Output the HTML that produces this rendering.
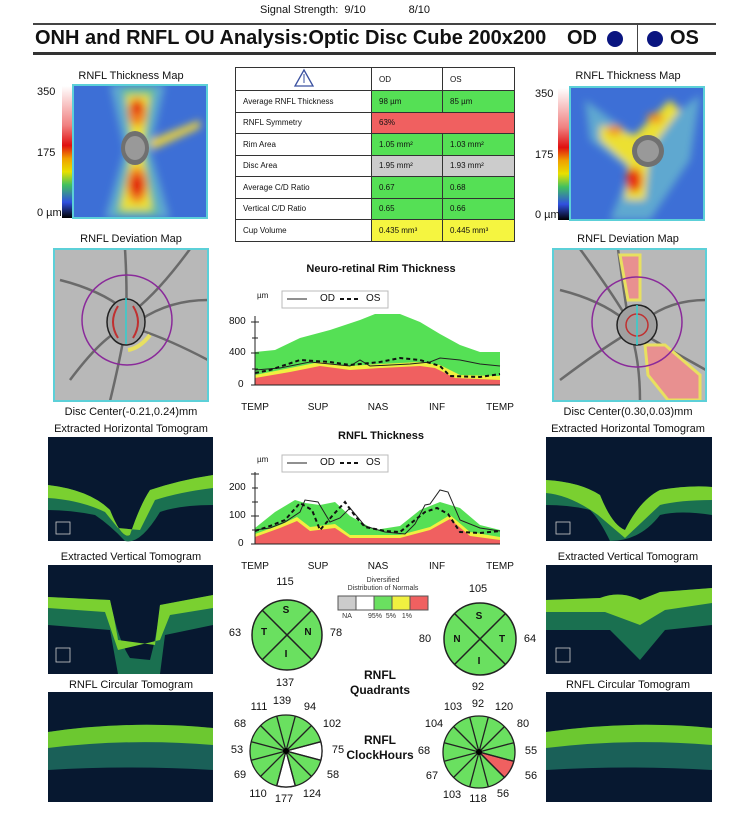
<!DOCTYPE html>
<html><head><meta charset="utf-8"><style>
body{margin:0;background:#fff;}
#p{position:relative;width:750px;height:818px;overflow:hidden;font-family:"Liberation Sans",sans-serif;color:#111;}
.t{position:absolute;white-space:nowrap;}
.c{transform:translateX(-50%);}
table{border-collapse:collapse;position:absolute;left:235px;top:67px;font-size:8px;}
td{border:1px solid #333;height:20.5px;padding:0 0 0 7px;}
</style></head><body><div id="p">
<div class="t" style="left:260px;top:4px;font-size:11px;">Signal Strength:&nbsp;&nbsp;9/10&nbsp;&nbsp;&nbsp;&nbsp;&nbsp;&nbsp;&nbsp;&nbsp;&nbsp;&nbsp;&nbsp;&nbsp;&nbsp;&nbsp;8/10</div>
<div style="position:absolute;left:33px;top:23px;width:683px;height:2px;background:#444"></div>
<div style="position:absolute;left:33px;top:52px;width:683px;height:3px;background:#333"></div>
<div style="position:absolute;left:637px;top:25px;width:1px;height:27px;background:#444"></div>
<div class="t" style="left:35px;top:27px;font-size:20px;font-weight:bold;">ONH and RNFL OU Analysis:Optic Disc Cube 200x200</div>
<div class="t" style="left:567px;top:27px;font-size:20px;font-weight:bold;">OD</div>
<div style="position:absolute;left:607px;top:31px;width:16px;height:16px;border-radius:50%;background:#0a1580"></div>
<div style="position:absolute;left:647px;top:31px;width:16px;height:16px;border-radius:50%;background:#0a1580"></div>
<div class="t" style="left:670px;top:27px;font-size:20px;font-weight:bold;">OS</div>

<svg style="position:absolute;left:0;top:0" width="750" height="818">
<defs>
<linearGradient id="cb" x1="0" y1="0" x2="0" y2="1">
<stop offset="0" stop-color="#fff"/><stop offset="0.3" stop-color="#f08080"/><stop offset="0.45" stop-color="#e01010"/><stop offset="0.55" stop-color="#f0a000"/><stop offset="0.65" stop-color="#e8e000"/><stop offset="0.75" stop-color="#40c060"/><stop offset="0.88" stop-color="#3050e0"/><stop offset="1" stop-color="#000"/>
</linearGradient>
<filter id="bl" x="-50%" y="-50%" width="200%" height="200%"><feGaussianBlur stdDeviation="4"/></filter>
<clipPath id="m1"><rect x="73" y="85" width="134" height="133"/></clipPath>
<clipPath id="m2"><rect x="570" y="87" width="134" height="133"/></clipPath>
<clipPath id="d1"><rect x="54" y="249" width="154" height="152"/></clipPath>
<clipPath id="d2"><rect x="553" y="249" width="153" height="152"/></clipPath>
</defs>
<rect x="62" y="86" width="11" height="132" fill="url(#cb)"/>
<rect x="558" y="88" width="11" height="132" fill="url(#cb)"/>
<g clip-path="url(#m1)">
<rect x="73" y="85" width="134" height="133" fill="#3d6fd6"/>
<g filter="url(#bl)">
<path d="M110 85 L165 85 L150 150 L170 218 L105 218 L125 150Z" fill="#5fa8d0"/>
<path d="M122 88 L155 88 L145 150 L158 215 L115 215 L130 150Z" fill="#60c090"/>
<path d="M126 95 L150 95 L142 150 L152 210 L120 210 L133 150Z" fill="#ece030"/>
<ellipse cx="137" cy="112" rx="9" ry="14" fill="#f08020"/>
<ellipse cx="137" cy="185" rx="10" ry="18" fill="#f08020"/>
<ellipse cx="137" cy="108" rx="5" ry="6" fill="#e01810"/>
<ellipse cx="137" cy="185" rx="6" ry="10" fill="#e01810"/>
<path d="M150 140 L200 120 L200 128 L152 150Z" fill="#e8d040"/>
</g>
<ellipse cx="135" cy="148" rx="14" ry="17" fill="#707070"/>
<ellipse cx="135" cy="148" rx="10" ry="12" fill="#999"/>
</g>
<rect x="73" y="85" width="134" height="133" fill="none" stroke="#5cd0d8" stroke-width="2"/>
<g clip-path="url(#m2)">
<rect x="570" y="87" width="134" height="133" fill="#3d6fd6"/>
<g filter="url(#bl)">
<path d="M585 100 L640 140 L700 95 L690 160 L650 220 L610 220 L630 170 L590 140Z" fill="#5fa8d0"/>
<path d="M600 125 L635 135 L670 100 L680 110 L650 150 L645 200 L625 200 L628 165 L600 140Z" fill="#ece030"/>
<ellipse cx="634" cy="180" rx="8" ry="12" fill="#e83010"/>
<ellipse cx="615" cy="130" rx="8" ry="5" fill="#f09020"/>
<ellipse cx="655" cy="118" rx="8" ry="5" fill="#f09020"/>
</g>
<circle cx="648" cy="151" r="16" fill="#707070"/>
<circle cx="648" cy="151" r="11" fill="#999"/>
</g>
<rect x="570" y="87" width="134" height="133" fill="none" stroke="#5cd0d8" stroke-width="2"/>
<g clip-path="url(#d1)">
<rect x="54" y="249" width="154" height="152" fill="#b8b8b8"/>
<path d="M125 249 Q128 300 125 330 Q120 360 110 401 M60 280 Q100 290 125 310 M208 300 Q170 300 140 320 M190 249 Q160 290 135 310 M70 380 Q100 340 120 330 M208 360 Q170 340 140 330" stroke="#6a6a6a" stroke-width="2.5" fill="none"/>
<ellipse cx="126" cy="322" rx="19" ry="23" fill="#a0a0a0" stroke="#222" stroke-width="1.5"/>
<path d="M118 306 Q108 322 118 338 M133 306 Q143 322 133 338" stroke="#c03030" stroke-width="2" fill="none"/>
<path d="M128 350 Q140 348 150 335" stroke="#e8e060" stroke-width="4" fill="none"/>
<circle cx="127" cy="320" r="45" fill="none" stroke="#8a2a9a" stroke-width="1.5"/>
<line x1="126" y1="298" x2="126" y2="344" stroke="#30d0d0" stroke-width="1.5"/>
</g>
<rect x="54" y="249" width="154" height="152" fill="none" stroke="#5cd0d8" stroke-width="2"/>
<g clip-path="url(#d2)">
<rect x="553" y="249" width="153" height="152" fill="#b8b8b8"/>
<path d="M618 249 Q625 300 630 330 Q640 360 640 401 M560 290 Q600 300 625 320 M706 300 Q670 300 645 320 M580 249 Q610 290 625 315 M560 380 Q600 350 625 335 M706 370 Q670 350 645 335" stroke="#6a6a6a" stroke-width="2.5" fill="none"/>
<path d="M620 255 L640 255 L640 300 L628 300 Z" fill="#e89090" stroke="#e8e060" stroke-width="3"/>
<path d="M645 345 L665 345 L700 375 L700 400 L668 400 L648 375 Z" fill="#e89090" stroke="#e8e060" stroke-width="3"/>
<circle cx="637" cy="325" r="20" fill="#a0a0a0" stroke="#222" stroke-width="1.5"/>
<circle cx="637" cy="325" r="11" fill="none" stroke="#c03030" stroke-width="1.5"/>
<circle cx="637" cy="322" r="45" fill="none" stroke="#8a2a9a" stroke-width="1.5"/>
<line x1="637" y1="305" x2="637" y2="345" stroke="#30d0d0" stroke-width="1.5"/>
</g>
<rect x="553" y="249" width="153" height="152" fill="none" stroke="#5cd0d8" stroke-width="2"/>

<g>
<rect x="48" y="437" width="165" height="104" fill="#071830"/>
<path d="M48 485 Q90 490 110 510 Q122 540 130 535 Q140 505 150 490 Q180 480 213 475 L213 505 Q180 505 160 512 Q140 545 125 541 Q110 525 95 515 Q70 510 48 510Z" fill="#1a7050"/>
<path d="M48 485 Q90 490 110 510 Q122 540 130 535 Q140 505 150 490 Q180 480 213 475 L213 488 Q180 492 155 500 L140 530 L118 528 L105 512 Q80 500 48 498Z" fill="#7ad030"/>
<rect x="48" y="565" width="165" height="109" fill="#071830"/>
<path d="M48 597 L110 600 Q118 640 130 658 L150 660 Q158 630 160 605 L213 595 L213 625 L165 635 L160 674 L118 674 L110 630 L48 625Z" fill="#1a7050"/>
<path d="M48 597 L110 600 Q115 620 118 640 L155 645 Q158 620 160 605 L213 595 L213 608 L170 615 L160 640 L118 650 L105 612 L48 608Z" fill="#7ad030"/>
<rect x="48" y="692" width="165" height="110" fill="#071830"/>
<path d="M48 732 Q130 720 213 728 L213 770 Q130 765 48 770Z" fill="#1a6058"/>
<path d="M48 732 Q130 720 213 728 L213 745 Q130 738 48 748Z" fill="#6cc830"/>
<rect x="546" y="437" width="166" height="104" fill="#071830"/>
<path d="M546 480 Q580 482 600 495 Q612 525 625 530 Q640 500 660 490 Q690 485 712 487 L712 515 Q680 510 660 515 Q640 541 610 541 Q600 520 590 510 Q570 505 546 505Z" fill="#1a7050"/>
<path d="M546 480 Q580 482 600 495 Q612 525 625 530 Q640 500 660 490 Q690 485 712 487 L712 500 Q680 500 660 505 L625 538 L598 515 Q570 495 546 493Z" fill="#7ad030"/>
<rect x="546" y="565" width="166" height="109" fill="#071830"/>
<path d="M546 600 L600 598 Q620 590 640 600 L660 592 L712 588 L712 625 L665 630 L640 660 L610 630 L546 630Z" fill="#1a7050"/>
<path d="M546 600 L600 598 Q620 590 640 600 L660 592 L712 588 L712 603 L665 610 L640 625 L605 612 L546 612Z" fill="#7ad030"/>
<rect x="546" y="692" width="166" height="110" fill="#071830"/>
<path d="M546 732 Q630 720 712 728 L712 770 Q630 765 546 770Z" fill="#1a6058"/>
<path d="M546 732 Q630 720 712 728 L712 745 Q630 738 546 748Z" fill="#6cc830"/>
</g>
<g stroke="#ccc" fill="none" stroke-width="0.8">
<rect x="56" y="522" width="14" height="12"/><rect x="56" y="648" width="14" height="14"/>
<rect x="556" y="522" width="14" height="12"/><rect x="556" y="648" width="14" height="14"/>
</g>

<path d="M255 352 L275 350 L300 338 L330 330 L360 320 L375 314 L400 314 L420 322 L440 334 L460 345 L480 352 L500 352 L500 385 L255 385Z" fill="#55e055"/>
<path d="M255 375 L290 368 L320 362 L350 366 L380 364 L420 362 L440 365 L460 375 L500 376 L500 385 L255 385Z" fill="#f0f040"/>
<path d="M255 378 L290 372 L320 366 L350 370 L380 368 L420 366 L435 368 L455 378 L500 380 L500 385 L255 385Z" fill="#f06060"/>
<polyline points="255,370 280,368 310,362 350,366 360,360 370,366 410,364 430,362 440,358 460,360 480,364 500,366" fill="none" stroke="#222" stroke-width="1"/>
<polyline points="255,373 270,370 300,360 330,362 350,365 380,362 400,358 420,360 440,366 450,376 480,377 500,374" fill="none" stroke="#111" stroke-width="2" stroke-dasharray="4,3"/>
<g stroke="#222" stroke-width="1">
<line x1="255" y1="316" x2="255" y2="385"/><line x1="255" y1="385" x2="500" y2="385"/>
<line x1="251" y1="322" x2="259" y2="322"/><line x1="252" y1="338" x2="258" y2="338"/><line x1="251" y1="353" x2="259" y2="353"/><line x1="252" y1="369" x2="258" y2="369"/><line x1="251" y1="385" x2="259" y2="385"/>
</g>
<rect x="282" y="291" width="106" height="17" fill="#fff" stroke="#bbb"/>
<line x1="287" y1="299" x2="307" y2="299" stroke="#222"/><line x1="340" y1="299" x2="360" y2="299" stroke="#111" stroke-width="2" stroke-dasharray="4,3"/>

<path d="M255 528 L275 512 L295 500 L305 503 L320 505 L335 502 L350 516 L375 530 L400 526 L420 510 L440 502 L460 508 L480 525 L500 530 L500 544 L255 544Z" fill="#55e055"/>
<path d="M255 534 L280 525 L297 517 L310 527 L335 524 L350 535 L400 535 L430 527 L450 515 L470 532 L500 537 L500 544 L255 544Z" fill="#f0f040"/>
<path d="M255 537 L280 528 L297 521 L310 531 L335 528 L350 538 L400 538 L430 530 L450 519 L470 536 L500 540 L500 544 L255 544Z" fill="#f06060"/>
<polyline points="255,530 270,528 285,522 300,512 305,500 318,502 330,522 340,518 350,508 365,526 385,532 405,534 415,524 425,505 430,504 440,490 448,492 460,520 480,528 500,531" fill="none" stroke="#222" stroke-width="1"/>
<polyline points="255,531 270,526 285,520 300,503 312,510 320,530 333,515 345,502 355,516 365,527 385,531 400,532 415,520 425,512 437,508 448,514 460,532 480,533 500,531" fill="none" stroke="#111" stroke-width="2" stroke-dasharray="4,3"/>
<g stroke="#222" stroke-width="1">
<line x1="255" y1="472" x2="255" y2="544"/><line x1="255" y1="544" x2="500" y2="544"/>
<line x1="251" y1="474" x2="259" y2="474"/><line x1="252" y1="488" x2="258" y2="488"/><line x1="252" y1="502" x2="258" y2="502"/><line x1="251" y1="516" x2="259" y2="516"/><line x1="252" y1="530" x2="258" y2="530"/><line x1="251" y1="544" x2="259" y2="544"/>
</g>
<rect x="282" y="455" width="106" height="17" fill="#fff" stroke="#bbb"/>
<line x1="287" y1="463" x2="307" y2="463" stroke="#222"/><line x1="340" y1="463" x2="360" y2="463" stroke="#111" stroke-width="2" stroke-dasharray="4,3"/>

<g stroke="#222" stroke-width="1.5">
<circle cx="287" cy="635" r="35" fill="#6ae060"/>
<line x1="262" y1="610" x2="312" y2="660"/><line x1="312" y1="610" x2="262" y2="660"/>
<circle cx="480" cy="639" r="36" fill="#6ae060"/>
<line x1="454.5" y1="613.5" x2="505.5" y2="664.5"/><line x1="505.5" y1="613.5" x2="454.5" y2="664.5"/>
</g>
<g stroke="#555" stroke-width="1">
<rect x="338" y="596" width="18" height="14" fill="#ccc"/><rect x="356" y="596" width="18" height="14" fill="#fff"/><rect x="374" y="596" width="18" height="14" fill="#6ae060"/><rect x="392" y="596" width="18" height="14" fill="#f0f040"/><rect x="410" y="596" width="18" height="14" fill="#f06060"/>
</g>

<g transform="translate(0,4)">
<g stroke="#222" stroke-width="1.3">
<circle cx="286" cy="747" r="36" fill="#6ae060"/>
<path d="M286 747 L320.8 737.7 A36 36 0 0 1 320.8 756.3Z" fill="#fff"/>
<path d="M286 747 L295.3 781.8 A36 36 0 0 1 276.7 781.8Z" fill="#fff"/>
<line x1="286" y1="747" x2="295.3" y2="712.2"/><line x1="286" y1="747" x2="311.5" y2="721.5"/><line x1="286" y1="747" x2="320.8" y2="737.7"/><line x1="286" y1="747" x2="320.8" y2="756.3"/><line x1="286" y1="747" x2="311.5" y2="772.5"/><line x1="286" y1="747" x2="295.3" y2="781.8"/><line x1="286" y1="747" x2="276.7" y2="781.8"/><line x1="286" y1="747" x2="260.5" y2="772.5"/><line x1="286" y1="747" x2="251.2" y2="756.3"/><line x1="286" y1="747" x2="251.2" y2="737.7"/><line x1="286" y1="747" x2="260.5" y2="721.5"/><line x1="286" y1="747" x2="276.7" y2="712.2"/>
</g>
<circle cx="286" cy="747" r="3" fill="#000"/>
</g>
<g stroke="#222" stroke-width="1.3">
<circle cx="479" cy="752" r="36" fill="#6ae060"/>
<path d="M479 752 L513.8 761.3 A36 36 0 0 1 504.5 777.5Z" fill="#f06060"/>
<line x1="479" y1="752" x2="488.3" y2="717.2"/><line x1="479" y1="752" x2="504.5" y2="726.5"/><line x1="479" y1="752" x2="513.8" y2="742.7"/><line x1="479" y1="752" x2="513.8" y2="761.3"/><line x1="479" y1="752" x2="504.5" y2="777.5"/><line x1="479" y1="752" x2="488.3" y2="786.8"/><line x1="479" y1="752" x2="469.7" y2="786.8"/><line x1="479" y1="752" x2="453.5" y2="777.5"/><line x1="479" y1="752" x2="444.2" y2="761.3"/><line x1="479" y1="752" x2="444.2" y2="742.7"/><line x1="479" y1="752" x2="453.5" y2="726.5"/><line x1="479" y1="752" x2="469.7" y2="717.2"/>
</g>
<circle cx="479" cy="752" r="3" fill="#000"/>
</svg>

<table>
<tr><td style="width:135px;text-align:center;padding:0;"><svg width="22" height="20"><path d="M11 2 L20 18 L2 18Z" fill="none" stroke="#3a50a0" stroke-width="1.3"/><line x1="11" y1="6" x2="11" y2="15" stroke="#3a50a0"/></svg></td><td style="width:63px">OD</td><td style="width:64px">OS</td></tr>
<tr><td>Average RNFL Thickness</td><td style="background:#55e055">98 µm</td><td style="background:#55e055">85 µm</td></tr>
<tr><td>RNFL Symmetry</td><td colspan="2" style="background:#f06060">63%</td></tr>
<tr><td>Rim Area</td><td style="background:#55e055">1.05 mm²</td><td style="background:#55e055">1.03 mm²</td></tr>
<tr><td>Disc Area</td><td style="background:#ccc">1.95 mm²</td><td style="background:#ccc">1.93 mm²</td></tr>
<tr><td>Average C/D Ratio</td><td style="background:#55e055">0.67</td><td style="background:#55e055">0.68</td></tr>
<tr><td>Vertical C/D Ratio</td><td style="background:#55e055">0.65</td><td style="background:#55e055">0.66</td></tr>
<tr><td>Cup Volume</td><td style="background:#f5f540">0.435 mm³</td><td style="background:#f5f540">0.445 mm³</td></tr>
</table>

<div style="font-size:11px">
<div class="t c" style="left:131px;top:70px">RNFL Thickness Map</div>
<div class="t c" style="left:628px;top:70px">RNFL Thickness Map</div>
<div class="t" style="left:37px;top:86px">350</div><div class="t" style="left:37px;top:147px">175</div><div class="t" style="left:37px;top:207px">0 µm</div>
<div class="t" style="left:535px;top:88px">350</div><div class="t" style="left:535px;top:149px">175</div><div class="t" style="left:535px;top:209px">0 µm</div>
<div class="t c" style="left:131px;top:233px">RNFL Deviation Map</div>
<div class="t c" style="left:628px;top:233px">RNFL Deviation Map</div>
<div class="t c" style="left:131px;top:406px">Disc Center(-0.21,0.24)mm</div>
<div class="t c" style="left:628px;top:406px">Disc Center(0.30,0.03)mm</div>
<div class="t c" style="left:131px;top:423px">Extracted Horizontal Tomogram</div>
<div class="t c" style="left:628px;top:423px">Extracted Horizontal Tomogram</div>
<div class="t c" style="left:131px;top:551px">Extracted Vertical Tomogram</div>
<div class="t c" style="left:628px;top:551px">Extracted Vertical Tomogram</div>
<div class="t c" style="left:131px;top:679px">RNFL Circular Tomogram</div>
<div class="t c" style="left:628px;top:679px">RNFL Circular Tomogram</div>
<div class="t c" style="left:381px;top:263px;font-weight:bold">Neuro-retinal Rim Thickness</div>
<div class="t c" style="left:381px;top:430px;font-weight:bold">RNFL Thickness</div>
</div>
<div style="font-size:10px">
<div class="t" style="left:257px;top:291px;font-size:8px">µm</div>
<div class="t" style="left:320px;top:293px">OD</div><div class="t" style="left:366px;top:293px">OS</div>
<div class="t" style="left:229px;top:316px">800</div><div class="t" style="left:229px;top:347px">400</div><div class="t" style="left:238px;top:379px">0</div>
<div class="t c" style="left:255px;top:402px">TEMP</div><div class="t c" style="left:318px;top:402px">SUP</div><div class="t c" style="left:378px;top:402px">NAS</div><div class="t c" style="left:437px;top:402px">INF</div><div class="t c" style="left:500px;top:402px">TEMP</div>
<div class="t" style="left:257px;top:455px;font-size:8px">µm</div>
<div class="t" style="left:320px;top:457px">OD</div><div class="t" style="left:366px;top:457px">OS</div>
<div class="t" style="left:229px;top:482px">200</div><div class="t" style="left:229px;top:510px">100</div><div class="t" style="left:238px;top:538px">0</div>
<div class="t c" style="left:255px;top:561px">TEMP</div><div class="t c" style="left:318px;top:561px">SUP</div><div class="t c" style="left:378px;top:561px">NAS</div><div class="t c" style="left:437px;top:561px">INF</div><div class="t c" style="left:500px;top:561px">TEMP</div>
</div>
<div style="font-size:7px;color:#333">
<div class="t c" style="left:383px;top:577px">Diversified</div><div class="t c" style="left:383px;top:585px">Distribution of Normals</div>
<div class="t c" style="left:347px;top:613px">NA</div><div class="t" style="left:368px;top:613px">95%&nbsp;&nbsp;5%&nbsp;&nbsp;&nbsp;1%</div>
</div>
<div style="font-size:10px;font-weight:bold">
<div class="t c" style="left:286px;top:605px">S</div>
<div class="t c" style="left:264px;top:627px">T</div><div class="t c" style="left:308px;top:627px">N</div><div class="t c" style="left:286px;top:649px">I</div>
<div class="t c" style="left:479px;top:611px">S</div>
<div class="t c" style="left:457px;top:634px">N</div><div class="t c" style="left:502px;top:634px">T</div><div class="t c" style="left:479px;top:656px">I</div>
<div class="t c" style="left:380px;top:668px;font-size:12px;text-align:center;line-height:15px">RNFL<br>Quadrants</div>
<div class="t c" style="left:380px;top:733px;font-size:12px;text-align:center;line-height:15px">RNFL<br>ClockHours</div>
</div>
<div style="font-size:11px">
<div class="t c" style="left:285px;top:576px">115</div><div class="t c" style="left:235px;top:627px">63</div><div class="t c" style="left:336px;top:627px">78</div><div class="t c" style="left:285px;top:677px">137</div>
<div class="t c" style="left:478px;top:583px">105</div><div class="t c" style="left:425px;top:633px">80</div><div class="t c" style="left:530px;top:633px">64</div><div class="t c" style="left:478px;top:681px">92</div>
<div class="t c" style="left:282px;top:695px">139</div><div class="t c" style="left:259px;top:701px">111</div><div class="t c" style="left:310px;top:701px">94</div><div class="t c" style="left:240px;top:718px">68</div><div class="t c" style="left:332px;top:718px">102</div><div class="t c" style="left:237px;top:744px">53</div><div class="t c" style="left:338px;top:744px">75</div><div class="t c" style="left:240px;top:769px">69</div><div class="t c" style="left:333px;top:769px">58</div><div class="t c" style="left:258px;top:788px">110</div><div class="t c" style="left:284px;top:793px">177</div><div class="t c" style="left:312px;top:788px">124</div>
<div class="t c" style="left:478px;top:698px">92</div><div class="t c" style="left:453px;top:701px">103</div><div class="t c" style="left:504px;top:701px">120</div><div class="t c" style="left:434px;top:718px">104</div><div class="t c" style="left:523px;top:718px">80</div><div class="t c" style="left:424px;top:745px">68</div><div class="t c" style="left:531px;top:745px">55</div><div class="t c" style="left:432px;top:770px">67</div><div class="t c" style="left:531px;top:770px">56</div><div class="t c" style="left:452px;top:789px">103</div><div class="t c" style="left:478px;top:793px">118</div><div class="t c" style="left:503px;top:788px">56</div>
</div>
</div></body></html>
